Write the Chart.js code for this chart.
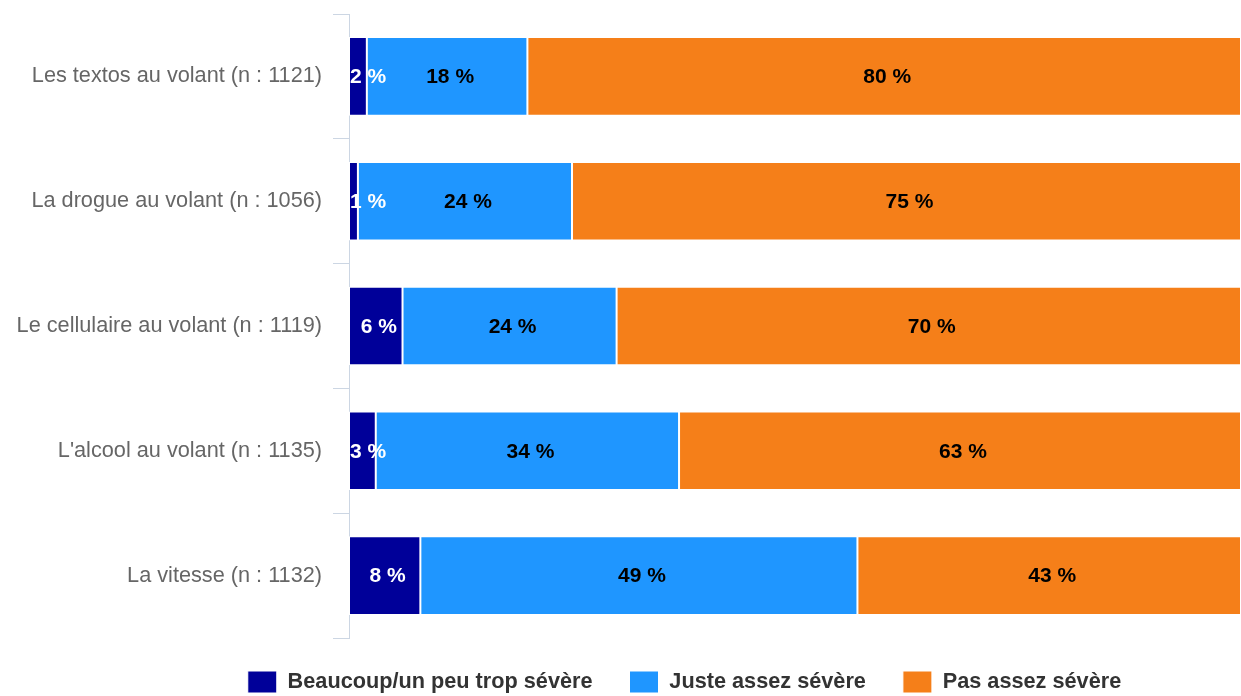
<!DOCTYPE html>
<html>
<head>
<meta charset="utf-8">
<script src="https://cdn.jsdelivr.net/npm/chart.js@4"></script>
<style>
    html, body { margin: 0; padding: 0; background: #ffffff; }
    #wrap { width: 1241px; height: 696px; }
</style>
</head>
<body>
<div id="wrap"><canvas id="severityChart"></canvas></div>
<script>
// Data
const categories = [
    'Les textos au volant (n : 1121)',
    'La drogue au volant (n : 1056)',
    'Le cellulaire au volant (n : 1119)',
    "L'alcool au volant (n : 1135)",
    'La vitesse (n : 1132)'
];
const seriesNames = ['Beaucoup/un peu trop sévère', 'Juste assez sévère', 'Pas assez sévère'];
const tropSevere = [2, 1, 6, 3, 8];
const justeAssez = [18, 24, 24, 34, 49];
const pasAssez = [80, 75, 70, 63, 43];
const colors = ['#000099', '#1f96ff', '#f57f19'];
const labelColors = ['#ffffff', '#000000', '#000000'];

const FONT = '"Liberation Sans", Arial, sans-serif';
Chart.defaults.font.family = FONT;

// Draw the "xx %" labels in each segment
const segmentLabels = {
    id: 'segmentLabels',
    afterDatasetsDraw(chart) {
        const ctx = chart.ctx;
        const area = chart.chartArea;
        ctx.save();
        ctx.font = 'bold 21px ' + FONT;
        ctx.textAlign = 'center';
        ctx.textBaseline = 'middle';
        chart.data.datasets.forEach((ds, i) => {
            const meta = chart.getDatasetMeta(i);
            meta.data.forEach((bar, j) => {
                const text = ds.data[j] + ' %';
                const w = ctx.measureText(text).width;
                let x = (bar.x + bar.base) / 2 + 3;
                x = Math.max(x, area.left + w / 2 + 1);
                ctx.fillStyle = labelColors[i];
                ctx.fillText(text, x, bar.y + 1);
            });
        });
        ctx.restore();
    }
};

// Move the legend to where it sits in the original
const legendPlace = {
    id: 'legendPlace',
    afterLayout(chart) {
        const lg = chart.legend;
        const shift = 64;
        lg.left += shift;
        lg.right += shift;
        lg.top = 634;
        lg.bottom = 696;
        lg.height = lg.bottom - lg.top;
    }
};

const ctx = document.getElementById('severityChart').getContext('2d');
new Chart(ctx, {
    type: 'bar',
    data: {
        labels: categories,
        datasets: [
            { label: seriesNames[0], data: tropSevere, backgroundColor: colors[0] },
            { label: seriesNames[1], data: justeAssez, backgroundColor: colors[1] },
            { label: seriesNames[2], data: pasAssez, backgroundColor: colors[2] }
        ].map(ds => Object.assign(ds, {
            borderColor: '#ffffff',
            borderWidth: 1,
            borderSkipped: false,
            barPercentage: 0.63,
            categoryPercentage: 1
        }))
    },
    options: {
        indexAxis: 'y',
        responsive: true,
        maintainAspectRatio: false,
        animation: false,
        layout: {
            padding: { top: 14, right: 0, bottom: 0, left: 0 }
        },
        plugins: {
            legend: {
                position: 'bottom',
                maxHeight: 58,
                labels: {
                    color: '#333333',
                    boxWidth: 29,
                    boxHeight: 22,
                    padding: 37,
                    font: { size: 21.7, weight: 'bold' }
                }
            },
            tooltip: { enabled: false }
        },
        scales: {
            x: {
                display: false,
                stacked: true,
                min: 0,
                max: 100
            },
            y: {
                stacked: true,
                afterFit(scale) {
                    scale.width = 349;
                    scale.paddingTop = 0;
                    scale.paddingBottom = 0;
                },
                border: {
                    color: '#ccd6e3',
                    width: 1
                },
                grid: {
                    drawOnChartArea: false,
                    color: '#ccd6e3',
                    tickLength: 16
                },
                ticks: {
                    color: '#666666',
                    padding: 11,
                    font: { size: 21.7 }
                }
            }
        }
    },
    plugins: [segmentLabels, legendPlace]
});
</script>
</body>
</html>
